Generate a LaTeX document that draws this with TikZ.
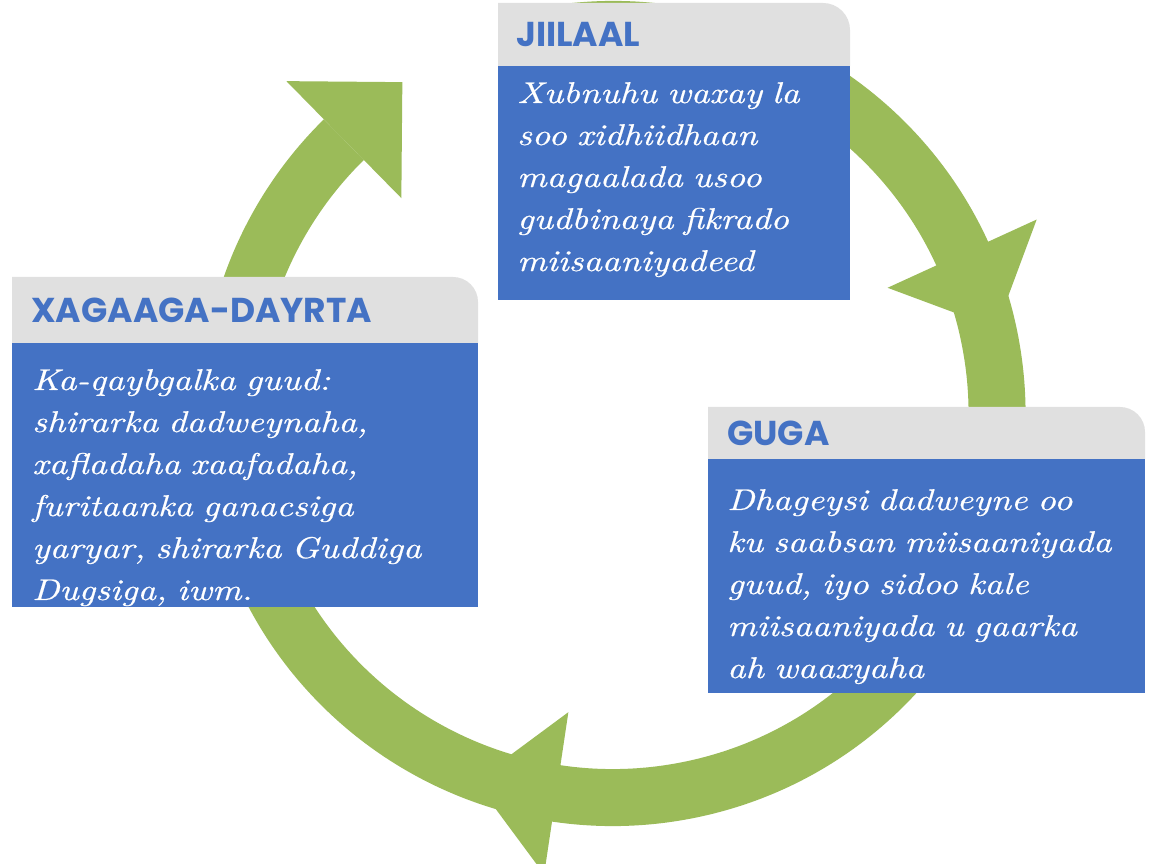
\documentclass[tikz,border=0pt]{standalone}
\usepackage{fontspec}
\usepackage{tikz}
\newfontfamily\titlefont{Poppins}
\newfontfamily\bodyfont{lmroman10}[Extension=.otf, UprightFont=*-regular,
	ItalicFont=*-italic, FakeStretch=1.2, FakeBold=0.6]
\definecolor{ringgreen}{HTML}{9BBB59}
\definecolor{boxblue}{HTML}{4472C4}
\definecolor{headgray}{HTML}{E0E0E0}
\tikzset{
	ring/.style={draw=ringgreen, line width=57pt},
	arrowhead/.style={fill=ringgreen},
	headbar/.style={fill=headgray},
	bodybox/.style={fill=boxblue}
}
\tikzset{
	title/.style={anchor=base west, inner sep=0pt, text=boxblue,
		font=\titlefont\bfseries\fontsize{34.5}{34.5}\selectfont},
	bodytext/.style={anchor=base west, inner sep=0pt, text=white, align=left,
		text width=430pt, font=\bodyfont\itshape\fontsize{30}{42}\selectfont}
}

\begin{document}
\begin{tikzpicture}[x=1pt, y=1pt]
	\useasboundingbox[fill=white] (0,0) rectangle (1151,863);
	\coordinate (c) at (613,449.5);

	% the cycle
	\draw[ring] (c) ++(102:384) arc[start angle=102, end angle=-225.5, radius=384];
	\fill[arrowhead, shift={(c)}, rotate=134.5] (466,0) -- (384,-82) -- (302,0) -- cycle;
	\fill[arrowhead, shift={(c)}, rotate=24.6] (466,0) -- (384,-82) -- (302,0) -- cycle;
	\fill[arrowhead, shift={(c)}, rotate=-98.5] (466,0) -- (384,-82) -- (302,0) -- cycle;

	% JIILAAL
	\fill[headbar] (498,797) -- (498,860) -- (823,860)
		arc[start angle=90, end angle=0, radius=27] -- (850,797) -- cycle;
	\fill[bodybox] (498,563) rectangle (850,797);
	\node (jiilaal) [title] at (516,816) {JIILAAL};
	\node (jiilaaltext) [bodytext] at (517,760) {Xubnuhu waxay la\\
		soo xidhiidhaan\\ magaalada usoo\\ gudbinaya fikrado\\ miisaaniyadeed};

	% XAGAAGA-DAYRTA
	\fill[headbar] (12,520) -- (12,586) -- (453,586)
		arc[start angle=90, end angle=0, radius=25] -- (478,520) -- cycle;
	\fill[bodybox] (12,256) rectangle (478,520);
	\node (xagaaga) [title] at (31,540) {XAGAAGA-DAYRTA};
	\node (xagaagatext) [bodytext] at (32,473) {Ka-qaybgalka guud:\\
		shirarka dadweynaha,\\ xafladaha xaafadaha,\\ furitaanka ganacsiga\\
		yaryar, shirarka Guddiga\\ Dugsiga, iwm.};

	% GUGA
	\fill[headbar] (708,404) -- (708,456) -- (1120,456)
		arc[start angle=90, end angle=0, radius=25] -- (1145,404) -- cycle;
	\fill[bodybox] (708,170) rectangle (1145,404);
	\node (guga) [title] at (727,417) {GUGA};
	\node (gugatext) [bodytext] at (727,353) {Dhageysi dadweyne oo\\
		ku saabsan miisaaniyada\\ guud, iyo sidoo kale\\ miisaaniyada u gaarka\\
		ah waaxyaha};
\end{tikzpicture}
\end{document}
